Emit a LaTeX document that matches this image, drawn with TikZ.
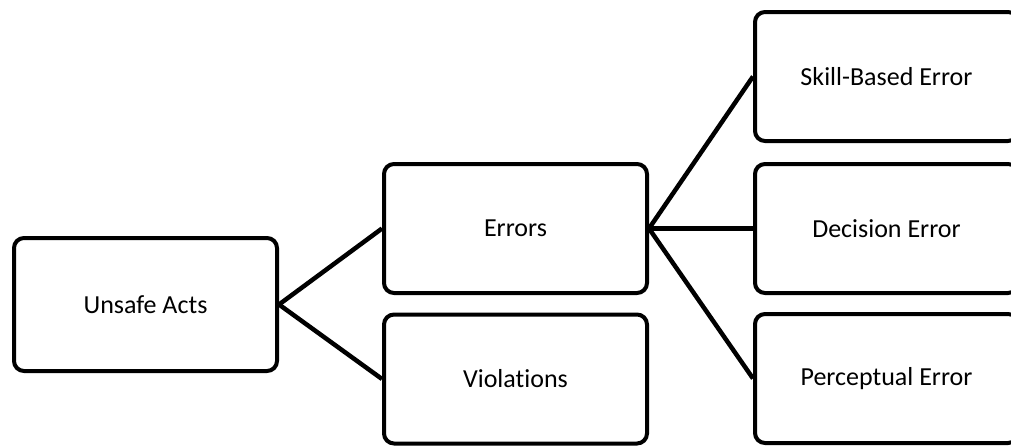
\documentclass[tikz,border=0pt]{standalone}
\usepackage{fontspec}
\setmainfont[RawFeature={-liga}]{Carlito}
\begin{document}
\begin{tikzpicture}[x=1pt,y=-1pt,
  box/.style={draw=black, line width=4pt, rounded corners=10pt, fill=white,
    minimum width=263pt, minimum height=129pt, inner sep=0pt,
    font=\fontsize{26}{30}\selectfont},
  conn/.style={draw=black, line width=4.5pt}]
\useasboundingbox (0,0) rectangle (1011,445);
\node[box, minimum height=133pt] (u) at (145.5,304.5) {Unsafe Acts};
\node[box] (e) at (515.5,228.5) {Errors};
\node[box] (v) at (515.5,379) {Violations};
\node[box] (s) at (886.5,76.5) {Skill-Based Error};
\node[box] (d) at (886.5,228.5) {Decision Error};
\node[box] (p) at (886.5,378.5) {Perceptual Error};
\draw[conn] (u.east) -- (e.west);
\draw[conn] (u.east) -- (v.west);
\draw[conn] (e.east) -- (s.west);
\draw[conn] (e.east) -- (d.west);
\draw[conn] (e.east) -- (p.west);
\end{tikzpicture}
\end{document}
